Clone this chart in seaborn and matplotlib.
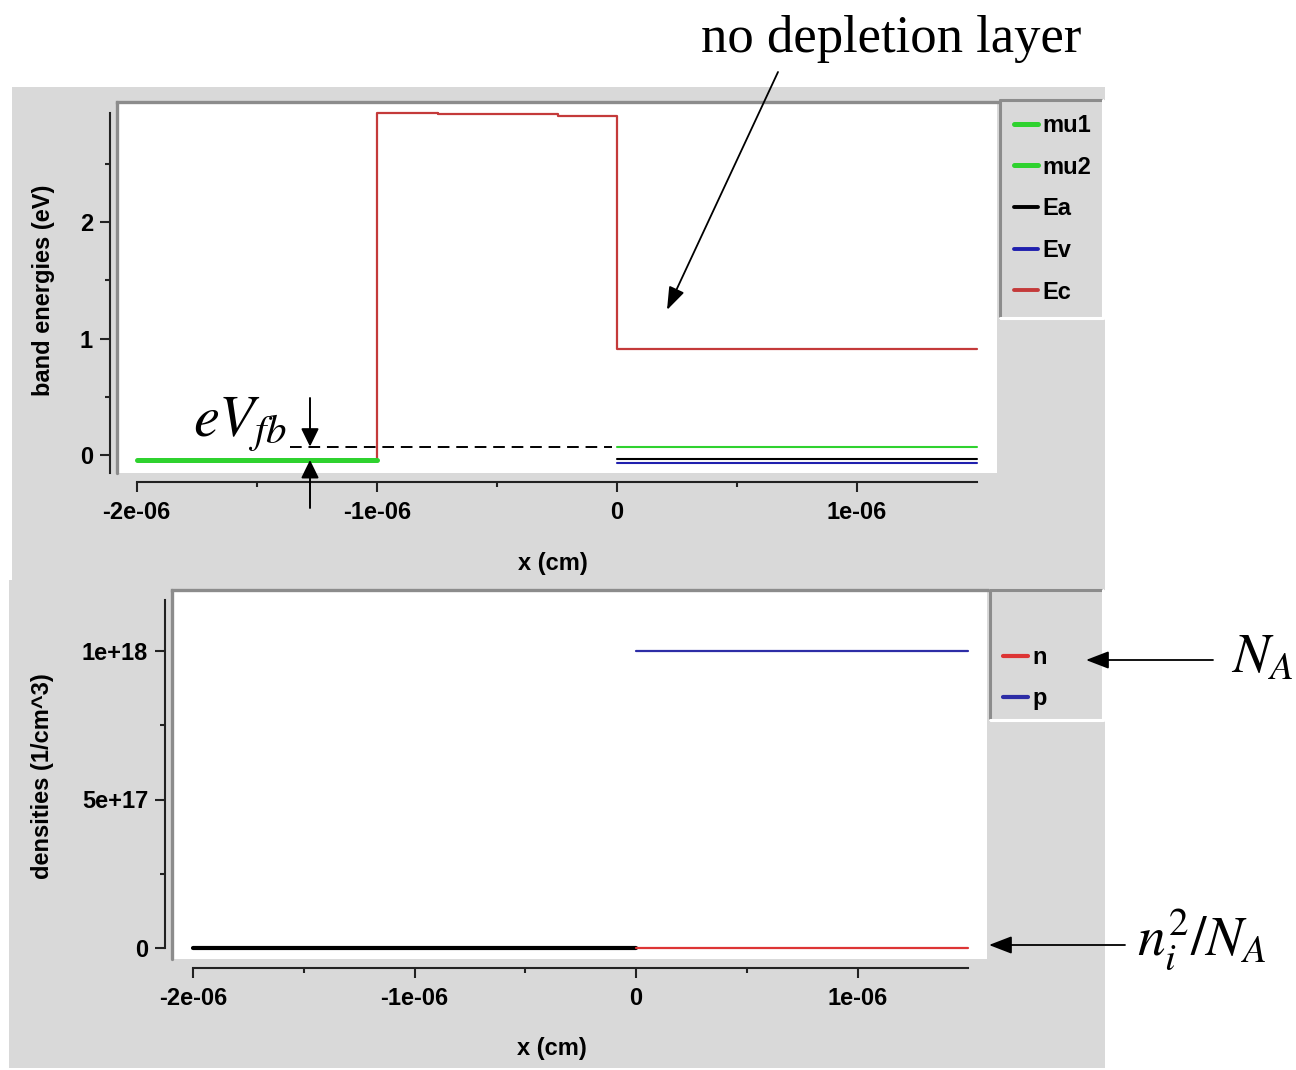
import matplotlib
matplotlib.use("Agg")
import matplotlib.pyplot as plt
import seaborn as sns
from matplotlib.patches import Rectangle, FancyArrowPatch
from matplotlib.lines import Line2D

# ---------------- data: band energies (top panel) ----------------
x_metal = [-2e-6, -1e-6]
mu1 = [-0.043, -0.043]
x_semi = [0.0, 1.5e-6]
mu2 = [0.072, 0.072]
Ea = [-0.034, -0.034]
Ev = [-0.071, -0.071]
Ec_x = [-2e-6, -1e-6, -0.743e-6, -0.243e-6, 0.0, 1.5e-6]
Ec = [-0.043, 2.938, 2.927, 2.910, 0.912, 0.912]

# ---------------- data: densities (bottom panel) ----------------
x_left = [-2e-6, 0.0]
dens_left = [0.0, 0.0]
x_right = [0.0, 1.5e-6]
n_dens = [0.0, 0.0]
p_dens = [1.0e18, 1.0e18]

# ---------------- ticks ----------------
x_ticks = [-2e-6, -1e-6, 0.0, 1e-6]
x_ticklabels = ["-2e-06", "-1e-06", "0", "1e-06"]
x_minor = [-1.5e-6, -0.5e-6, 0.5e-6]
top_yticks = [0, 1, 2]
top_yticklabels = ["0", "1", "2"]
top_yminor = [0.5, 1.5, 2.5]
bot_yticks = [0.0, 5e17, 1e18]
bot_yticklabels = ["0", "5e+17", "1e+18"]
bot_yminor = [2.5e17, 7.5e17]

# ---------------- style ----------------
sns.set_theme(style="ticks")
plt.rcParams["font.family"] = ["Liberation Sans", "DejaVu Sans"]
plt.rcParams["font.weight"] = "normal"
plt.rcParams["axes.labelweight"] = "bold"
plt.rcParams["mathtext.fontset"] = "stix"
plt.rcParams["text.color"] = "black"
plt.rcParams["axes.labelcolor"] = "black"

W, H = 1296, 1070
fig = plt.figure(figsize=(W / 100, H / 100), dpi=100)
fig.patch.set_facecolor("white")


def P(x, y):
    """top-left pixel -> figure fraction"""
    return (x / W, 1 - y / H)


def box(x0, y0, x1, y1):
    return [x0 / W, 1 - y1 / H, (x1 - x0) / W, (y1 - y0) / H]


BG = "#d9d9d9"
BORDER = "#8c8c8c"
AXC = "#222222"
GREEN = "#2fd22f"
EC_RED = "#c43a3a"
EV_BLUE = "#1f1fae"
N_RED = "#dd3535"
P_BLUE = "#2d2da6"

# gray panel backgrounds
for (x0, y0, x1, y1) in [(12, 87, 1105, 580), (9, 580, 1105, 1068)]:
    fig.add_artist(Rectangle(P(x0, y1), (x1 - x0) / W, (y1 - y0) / H,
                             transform=fig.transFigure, facecolor=BG,
                             edgecolor="none", zorder=-20))


def sunken_box(x0, y0, x1, y1, lw=2.2):
    fig.add_artist(Line2D([x0 / W, x1 / W], [1 - y0 / H] * 2, transform=fig.transFigure,
                          color=BORDER, lw=lw, zorder=-5))
    fig.add_artist(Line2D([x0 / W] * 2, [1 - y0 / H, 1 - y1 / H], transform=fig.transFigure,
                          color=BORDER, lw=lw, zorder=-5))
    fig.add_artist(Line2D([x0 / W, x1 / W], [1 - y1 / H] * 2, transform=fig.transFigure,
                          color="white", lw=lw, zorder=-5))
    fig.add_artist(Line2D([x1 / W] * 2, [1 - y0 / H, 1 - y1 / H], transform=fig.transFigure,
                          color="white", lw=lw, zorder=-5))


def style_axes(ax, xlim, ylim, ybounds, yticks, ylabels, yminor):
    ax.set_facecolor("white")
    ax.set_xlim(*xlim)
    ax.set_ylim(*ylim)
    ax.set_xticks(x_ticks, labels=x_ticklabels)
    ax.set_xticks(x_minor, minor=True)
    ax.set_yticks(yticks, labels=ylabels)
    ax.set_yticks(yminor, minor=True)
    ax.spines["right"].set_visible(False)
    ax.spines["top"].set_color(BORDER)
    ax.spines["top"].set_linewidth(2.4)
    ax.spines["left"].set_position(("outward", 5))
    ax.spines["bottom"].set_position(("outward", 6.5))
    for s in ("left", "bottom"):
        ax.spines[s].set_color(AXC)
        ax.spines[s].set_linewidth(1.5)
    ax.spines["left"].set_bounds(*ybounds)
    ax.spines["bottom"].set_bounds(x_ticks[0], x_semi[-1])
    ax.add_line(Line2D([0, 0], [0, 1], transform=ax.transAxes, color=BORDER,
                       lw=2.4, clip_on=False))
    ax.tick_params(which="both", direction="out", color=AXC, width=1.5,
                   labelcolor="black", labelsize=17)
    ax.tick_params(which="major", length=7.2)
    ax.tick_params(which="minor", length=3.6)
    ax.tick_params(axis="x", pad=6.5)
    ax.tick_params(axis="y", pad=5)


# ================= top panel =================
ax1 = fig.add_axes(box(117, 102, 997, 473))
sns.lineplot(x=Ec_x, y=Ec, ax=ax1, color=EC_RED, lw=1.6, estimator=None,
             drawstyle="steps-post", label="Ec", zorder=2)
sns.lineplot(x=x_metal, y=mu1, ax=ax1, color=GREEN, lw=3.6, estimator=None,
             label="mu1", zorder=3)
sns.lineplot(x=x_semi, y=mu2, ax=ax1, color=GREEN, lw=1.5, estimator=None,
             label="mu2", zorder=3)
sns.lineplot(x=x_semi, y=Ea, ax=ax1, color="black", lw=1.5, estimator=None,
             label="Ea", zorder=3)
sns.lineplot(x=x_semi, y=Ev, ax=ax1, color=EV_BLUE, lw=1.5, estimator=None,
             label="Ev", zorder=3)

style_axes(ax1, ((117 - 616.7) / 240e6, (997 - 616.7) / 240e6),
           (-(473 - 455) / 116.5, (455 - 102) / 116.5),
           (-(473 - 455) / 116.5, max(Ec)), top_yticks, top_yticklabels, top_yminor)
ax1.set_xlabel("x (cm)", fontsize=17, fontweight="bold")
ax1.set_ylabel("band energies (eV)", fontsize=17, fontweight="bold")
ax1.xaxis.set_label_coords(0.4955, -0.213)
ax1.yaxis.set_label_coords(-0.0705, 0.493)

h, l = ax1.get_legend_handles_labels()
order = ["mu1", "mu2", "Ea", "Ev", "Ec"]
hd = dict(zip(l, h))
leg1 = ax1.legend([hd[k] for k in order], order, loc="upper left",
                  bbox_to_anchor=P(1014, 114), bbox_transform=fig.transFigure,
                  frameon=False, fontsize=17, handlelength=1.02, handletextpad=0.18,
                  labelspacing=0.79, borderpad=0, borderaxespad=0)
for t in leg1.get_texts():
    t.set_fontweight("bold")
for ln, w in zip(leg1.get_lines(), [3.6, 3.6, 2.8, 2.8, 2.8]):
    ln.set_linewidth(w)
sunken_box(1000, 100, 1103, 318)

# eV_fb annotation (dashed line at mu2 level, arrows)
x_arrow = (310 - 616.7) / 240e6
ax1.hlines(mu2[0], (290 - 616.7) / 240e6, -0.02e-6, colors="black", lw=1.4,
           linestyles=(0, (6, 3.5)), zorder=4)
ax1.annotate("", xy=(x_arrow, mu2[0]), xytext=(x_arrow, (455 - 398) / 116.5),
             arrowprops=dict(arrowstyle="-|>,head_length=0.55,head_width=0.27",
                             color="black", lw=1.4, shrinkA=0, shrinkB=0,
                             mutation_scale=20), annotation_clip=False)
ax1.annotate("", xy=(x_arrow, mu1[0]), xytext=(x_arrow, (455 - 508) / 116.5),
             arrowprops=dict(arrowstyle="-|>,head_length=0.55,head_width=0.27",
                             color="black", lw=1.4, shrinkA=0, shrinkB=0,
                             mutation_scale=20), annotation_clip=False)
fig.text(*P(193, 436), r"$eV_{fb}$", fontsize=42, ha="left", va="baseline")

# "no depletion layer"
fig.text(*P(701, 52), "no depletion layer", fontsize=38, ha="left", va="baseline",
         family=["Liberation Serif", "DejaVu Serif"])
ax1.annotate("", xy=((667 - 616.7) / 240e6, (455 - 310) / 116.5),
             xytext=P(778, 72), textcoords="figure fraction",
             arrowprops=dict(arrowstyle="-|>,head_length=0.7,head_width=0.25",
                             color="black", lw=1.3, shrinkA=0, shrinkB=0,
                             mutation_scale=20), annotation_clip=False)

# ================= bottom panel =================
ax2 = fig.add_axes(box(172, 590, 987, 959))
sns.lineplot(x=x_left, y=dens_left, ax=ax2, color="black", lw=3.0, estimator=None,
             legend=False, zorder=3)
sns.lineplot(x=x_right, y=n_dens, ax=ax2, color=N_RED, lw=1.6, estimator=None,
             label="n", zorder=3)
sns.lineplot(x=x_right, y=p_dens, ax=ax2, color=P_BLUE, lw=1.6, estimator=None,
             label="p", zorder=3)
style_axes(ax2, ((172 - 636) / 221.5e6, (987 - 636) / 221.5e6),
           (-(959 - 948) / 297 * 1e18, (948 - 590) / 297 * 1e18),
           (0.0, (948 - 600) / 297 * 1e18), bot_yticks, bot_yticklabels, bot_yminor)
ax2.set_xlabel("x (cm)", fontsize=17, fontweight="bold")
ax2.set_ylabel("densities (1/cm^3)", fontsize=17, fontweight="bold")
ax2.xaxis.set_label_coords(0.466, -0.211)
ax2.yaxis.set_label_coords(-0.1448, 0.496)

leg2 = ax2.legend(loc="upper left", bbox_to_anchor=P(1003, 646),
                  bbox_transform=fig.transFigure, frameon=False, fontsize=17,
                  handlelength=1.05, handletextpad=0.18, labelspacing=0.76,
                  borderpad=0, borderaxespad=0)
for t in leg2.get_texts():
    t.set_fontweight("bold")
for ln in leg2.get_lines():
    ln.set_linewidth(3.0)
sunken_box(990, 590, 1103, 720)

# N_A and n_i^2/N_A annotations
fig.text(*P(1231, 672), r"$N_A$", fontsize=40, ha="left", va="baseline")
fig.add_artist(FancyArrowPatch(P(1213, 660), P(1086, 660), transform=fig.transFigure,
                               arrowstyle="-|>,head_length=0.7,head_width=0.27",
                               mutation_scale=20, color="black", lw=1.3,
                               shrinkA=0, shrinkB=0))
fig.text(*P(1137, 955), r"$n_i^2/N_A$", fontsize=40, ha="left", va="baseline")
fig.add_artist(FancyArrowPatch(P(1125, 945), P(989, 945), transform=fig.transFigure,
                               arrowstyle="-|>,head_length=0.7,head_width=0.27",
                               mutation_scale=20, color="black", lw=1.3,
                               shrinkA=0, shrinkB=0))

# bold tick labels (set last so every tick label is affected)
for ax in (ax1, ax2):
    for t in ax.get_xticklabels() + ax.get_yticklabels():
        t.set_fontweight("bold")

fig.savefig("out.png", dpi=100, facecolor="white")
